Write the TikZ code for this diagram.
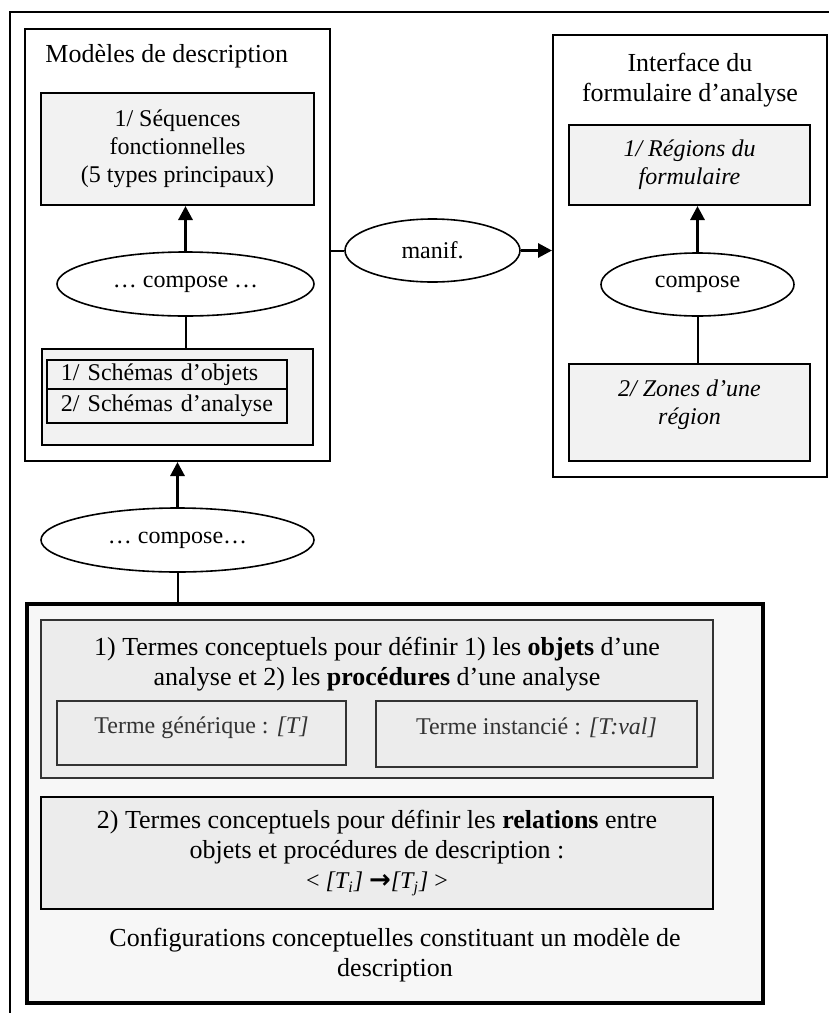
\documentclass[tikz,border=0pt]{standalone}
\usepackage{fontspec}
\setmainfont{Liberation Serif}
\newfontfamily\arrowfont{DejaVu Sans}
\usetikzlibrary{arrows.meta,positioning,shapes.geometric}
\definecolor{boxgray}{HTML}{F2F2F2}
\definecolor{midgray}{HTML}{ECECEC}
\definecolor{palegray}{HTML}{F7F7F7}
\definecolor{darkline}{HTML}{333333}
\tikzset{box/.style={draw,fill=boxgray,line width=1pt,align=center,inner sep=0pt,font=\fontsize{12}{14}\selectfont},
  frame/.style={draw,line width=1pt,inner sep=0pt},
  oval/.style={draw,ellipse,line width=0.8pt,inner sep=0pt,font=\fontsize{12}{14}\selectfont},
  termbox/.style={box,fill=midgray,draw=darkline,text=darkline},
  title/.style={align=center,inner sep=0pt,font=\fontsize{13}{15}\selectfont},
  arr/.style={-{Triangle[length=7pt,width=7pt]},line width=1.5pt},
  ln/.style={line width=1pt}}

\begin{document}
\begin{tikzpicture}[x=0.5pt,y=-0.5pt]
\useasboundingbox (0,0) rectangle (829,1013);
\draw[ln] (10,1013) -- (10,12) -- (829,12);
% description models
\node[frame,minimum width=152.5pt,minimum height=216pt] (mdbox) at (177.5,245) {};
\node[title,anchor=west] (mdtitle) at (45,56) {Modèles de description};
\node[box,minimum width=136.5pt,minimum height=56pt] (seq) at (177.5,149) {1/ Séquences\\fonctionnelles\\(5 types principaux)};
\node[oval,minimum width=128.5pt,minimum height=32pt] (comp1) at (185.5,284) {… compose …};
\node[box,minimum width=135.5pt,minimum height=48pt] (sch) at (177.5,397) {};
\node[draw,line width=1pt,inner xsep=7pt,inner ysep=0pt,text width=106pt,align=left,minimum height=14.5pt,font=\fontsize{12}{14}\selectfont] (row1) at (167,374.5) {1/ Schémas d’objets};
\node[draw,line width=1pt,inner xsep=7pt,inner ysep=0pt,text width=106pt,align=left,minimum height=17pt,font=\fontsize{12}{14}\selectfont] (row2) at (167,406) {2/ Schémas d’analyse};
\draw[arr] (comp1.north) -- (comp1.north |- seq.south);
\draw[ln] (comp1.south) -- (comp1.south |- sch.north);
% form interface
\node[frame,minimum width=137pt,minimum height=221pt] (ifbox) at (690,256) {};
\node[title] (iftitle) at (690,80) {Interface du\\formulaire d’analyse};
\node[box,minimum width=120.5pt,minimum height=40pt,font=\fontsize{12}{14}\itshape] (reg) at (689.5,165) {1/ Régions du\\formulaire};
\node[oval,minimum width=96.5pt,minimum height=31.5pt] (comp2) at (697.5,284.5) {compose};
\node[box,minimum width=120.5pt,minimum height=48.5pt,font=\fontsize{12}{14}\itshape] (zones) at (689.5,412.5) {2/ Zones d’une\\région\\[-4pt]};
\draw[arr] (comp2.north) -- (comp2.north |- reg.south);
\draw[ln] (comp2.south) -- (comp2.south |- zones.north);
% manif
\node[oval,minimum width=87.5pt,minimum height=31.5pt] (manif) at (432.5,250.5) {manif.};
\draw[ln] (manif.west -| mdbox.east) -- (manif.west);
\draw[arr] (manif.east) -- (manif.east -| ifbox.west);
% conceptual configurations
\node[oval,minimum width=136.5pt,minimum height=32pt] (comp3) at (177.5,540) {… compose…};
\node[draw,fill=palegray,line width=2pt,inner sep=0pt,minimum width=368pt,minimum height=199.5pt] (cfg) at (395,803.5) {};
\draw[arr] (comp3.north) -- (mdbox.south);
\draw[ln] (comp3.south) -- (comp3.south |- cfg.north);
\node[draw=darkline,fill=midgray,line width=1pt,minimum width=336pt,minimum height=79pt] (terms) at (377,699) {};
\node[title] (termstext) at (377,664) {1) Termes conceptuels pour définir 1) les \textbf{objets} d’une\\analyse et 2) les \textbf{procédures} d’une analyse};
\node[termbox,minimum width=144.5pt,minimum height=32pt,text depth=8pt] (gen) at (201.5,733) {Terme générique : \textit{[T]}};
\node[termbox,minimum width=160.5pt,minimum height=33pt,text depth=8pt] (inst) at (536.5,734) {Terme instancié : \textit{[T:val]}};
\node[box,fill=midgray,minimum width=336pt,minimum height=56pt,font=\fontsize{13}{15}\selectfont] (rel) at (377,853) {2) Termes conceptuels pour définir les \textbf{relations} entre\\objets et procédures de description :\\{\fontsize{12}{15}\selectfont < \textit{[T\textsubscript{i}]} {\arrowfont\bfseries\fontsize{13}{15}\selectfont →}\textit{[T\textsubscript{j}]} >}};
\node[title] (cfgtext) at (395,955) {Configurations conceptuelles constituant un modèle de\\description};
\end{tikzpicture}
\end{document}
